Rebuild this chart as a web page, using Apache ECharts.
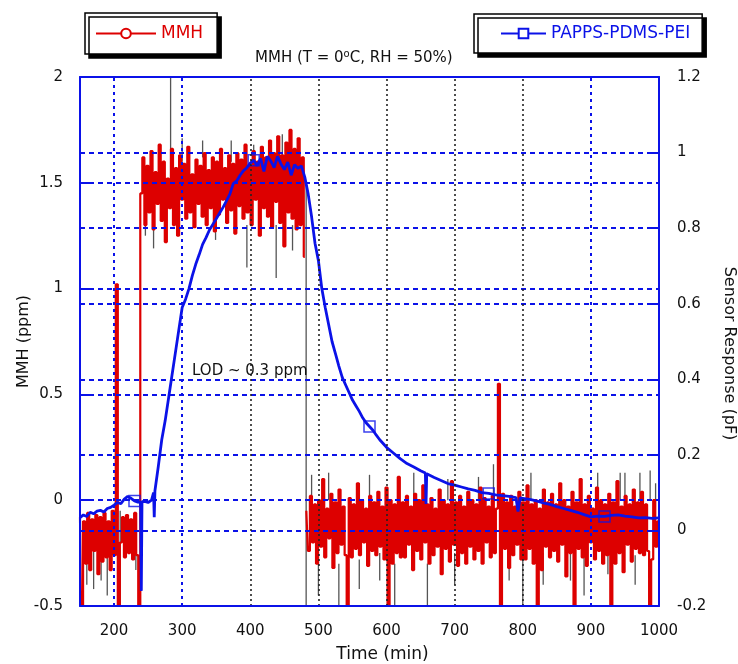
<!DOCTYPE html>
<html>
<head>
<meta charset="utf-8">
<script src="https://cdn.jsdelivr.net/npm/echarts@6/dist/echarts.min.js"></script>
<style>
html, body { margin: 0; padding: 0; background: #ffffff; overflow: hidden; }
#chart { width: 738px; height: 664px; }
</style>
</head>
<body>
<div id="chart"></div>
<script>
// MMH concentration, sampled every 3 min starting at t = 150 min
const mmhStart = 150;
const mmhStep = 3;

// 150-237 min: baseline before exposure
const mmhBaseline = [
  -0.08, -0.5, -0.1, -0.3, -0.06, -0.33, -0.09, -0.24, -0.07, -0.35,
  -0.08, -0.29, -0.06, -0.27, -0.1, -0.33, -0.05, -0.26, 1.02, -0.5,
  -0.2, -0.08, -0.27, -0.07, -0.25, -0.09, -0.28, -0.06, -0.26, -0.5
];

// 240-480 min: MMH exposure
const mmhExposure = [
  1.45, 1.62, 1.3, 1.58, 1.36, 1.65, 1.28, 1.55, 1.4, 1.68, 1.32, 1.6, 1.22, 1.52, 1.38, 1.66, 1.3, 1.57, 1.25, 1.63,
  1.42, 1.59, 1.33, 1.67, 1.36, 1.54, 1.29, 1.61, 1.4, 1.58, 1.34, 1.64, 1.3, 1.56, 1.38, 1.62, 1.27, 1.6, 1.35, 1.66,
  1.42, 1.57, 1.31, 1.63, 1.37, 1.59, 1.26, 1.64, 1.39, 1.61, 1.33, 1.68, 1.36, 1.58, 1.3, 1.65, 1.42, 1.6, 1.25, 1.67,
  1.38, 1.62, 1.34, 1.7, 1.29, 1.64, 1.41, 1.72, 1.31, 1.63, 1.2, 1.69, 1.36, 1.75, 1.33, 1.66, 1.28, 1.71, 1.3, 1.62,
  1.15
];

// 483-999 min: recovery in clean air
const mmhRecovery = [
  -0.05, -0.24, 0.02, -0.2, -0.02, -0.3, 0.0, -0.22, 0.1, -0.27, -0.04, -0.18, 0.03, -0.32, -0.01, -0.25, 0.05, -0.21, -0.03, -0.26,
  -0.5, 0.01, -0.27, -0.02, -0.23, 0.08, -0.26, 0.0, -0.2, -0.04, -0.31, 0.02, -0.24, -0.01, -0.26, 0.04, -0.22, -0.03, -0.28, 0.06,
  -0.5, 0.0, -0.3, -0.02, -0.25, 0.11, -0.27, -0.01, -0.27, 0.02, -0.21, -0.03, -0.33, 0.03, -0.24, 0.0, -0.28, 0.07, -0.2, -0.02,
  -0.3, 0.01, -0.26, -0.04, -0.22, 0.05, -0.35, 0.0, -0.23, -0.02, -0.29, 0.09, -0.21, -0.01, -0.31, 0.02, -0.25, -0.03, -0.3, 0.04,
  -0.22, 0.0, -0.28, -0.02, -0.24, 0.06, -0.3, 0.01, -0.2, -0.03, -0.27, 0.02, -0.25, -0.04, 0.55, -0.5, 0.03, -0.23, -0.01, -0.32,
  0.02, -0.26, -0.03, -0.21, 0.04, -0.28, -0.01, -0.28, 0.07, -0.23, -0.02, -0.3, 0.0, -0.5, -0.04, -0.33, 0.05, -0.22, -0.01, -0.27,
  0.03, -0.24, -0.02, -0.29, 0.08, -0.21, 0.0, -0.36, -0.03, -0.25, 0.04, -0.5, -0.01, -0.23, 0.1, -0.27, -0.02, -0.31, 0.02, -0.2,
  -0.04, -0.28, 0.06, -0.24, 0.0, -0.3, -0.02, -0.26, 0.03, -0.5, -0.01, -0.3, 0.09, -0.25, -0.03, -0.34, 0.02, -0.21, -0.02, -0.29,
  0.05, -0.23, -0.01, -0.25, 0.04, -0.26, -0.02, -0.24, -0.5, -0.28, 0.0, -0.22, -0.1
];

// raw-signal excursions left visible behind the MMH trace (time, low, high)
const rawTime = [160, 170, 181, 190, 209, 232, 246, 258, 283, 300, 330, 349, 372, 395, 405, 438, 447, 462, 482,
  490, 500, 515, 530, 560, 575, 590, 612, 640, 660, 690, 700, 735, 757, 780, 800, 812, 830, 855, 870, 890, 910, 925, 943, 950, 965, 972, 987, 995];
const rawLow = [-0.4, -0.42, -0.38, -0.45, -0.5, -0.33, 1.25, 1.19, 1.4, 1.6, 1.62, 1.23, 1.6, 1.1, 1.58, 1.05, 1.62, 1.18, -0.5,
  0.0, -0.45, 0.0, -0.5, -0.42, 0.0, -0.38, -0.5, 0.0, -0.5, 0.0, -0.4, 0.0, 0.0, -0.38, -0.5, 0.0, -0.4, 0.0, -0.38, -0.45, 0.0, -0.35, 0.0, 0.0, -0.4, 0.0, 0.0, 0.0];
const rawHigh = [-0.1, -0.2, -0.2, -0.25, -0.05, -0.2, 1.4, 1.35, 2.0, 1.71, 1.7, 1.35, 1.7, 1.3, 1.68, 1.3, 1.73, 1.3, 1.5,
  0.12, -0.25, 0.13, -0.3, -0.28, 0.12, -0.25, -0.3, 0.13, -0.3, 0.1, -0.25, 0.11, 0.17, -0.25, -0.28, 0.13, -0.25, 0.08, -0.25, -0.25, 0.13, -0.25, 0.13, 0.13, -0.26, 0.13, 0.14, 0.08];

// PAPPS-PDMS-PEI capacitive response (pF)
const sensorTime = [150, 155, 160, 165, 170, 175, 180, 185, 190, 195, 200, 205, 210, 215, 220, 225, 230, 235, 239, 240,
  241, 245, 250, 255, 258, 259, 260, 265, 270, 275, 280, 285, 290, 295, 300, 305, 310, 315, 320, 325,
  330, 335, 340, 345, 350, 355, 360, 365, 370, 375, 380, 385, 390, 395, 400, 405, 410, 415, 420, 425,
  430, 435, 440, 445, 450, 455, 460, 465, 470, 475, 480, 485, 490, 495, 500, 505, 510, 515, 520, 525,
  530, 535, 540, 545, 550, 555, 560, 565, 570, 575, 580, 585, 590, 595, 600, 610, 620, 630, 640, 650,
  657, 658, 659, 670, 680, 690, 700, 710, 720, 730, 740, 750, 760, 770, 780, 790, 793, 796, 800, 810,
  820, 830, 840, 850, 860, 870, 880, 890, 900, 910, 920, 930, 940, 950, 960, 970, 980, 990, 1000];
const sensorResp = [0.034, 0.041, 0.037, 0.048, 0.044, 0.051, 0.053, 0.049, 0.058, 0.061, 0.067, 0.074, 0.071, 0.083, 0.09, 0.085, 0.078, 0.075, 0.074, -0.16,
  0.076, 0.077, 0.074, 0.08, 0.1, 0.035, 0.105, 0.17, 0.24, 0.29, 0.35, 0.41, 0.47, 0.53, 0.59, 0.612, 0.64, 0.675, 0.705, 0.73,
  0.757, 0.775, 0.795, 0.81, 0.825, 0.84, 0.855, 0.872, 0.89, 0.918, 0.925, 0.94, 0.952, 0.96, 0.972, 0.98, 0.965, 0.985, 0.95, 0.99,
  0.978, 0.96, 0.99, 0.97, 0.955, 0.975, 0.94, 0.968, 0.958, 0.965, 0.935, 0.89, 0.83, 0.76, 0.714, 0.64, 0.59, 0.545, 0.5, 0.468,
  0.435, 0.405, 0.385, 0.365, 0.345, 0.33, 0.315, 0.298, 0.285, 0.275, 0.265, 0.252, 0.24, 0.23, 0.22, 0.205, 0.19, 0.177, 0.168, 0.158,
  0.152, 0.07, 0.15, 0.14, 0.132, 0.124, 0.12, 0.115, 0.11, 0.106, 0.1, 0.098, 0.094, 0.092, 0.09, 0.087, 0.05, 0.086, 0.085, 0.082,
  0.078, 0.073, 0.069, 0.063, 0.058, 0.053, 0.048, 0.042, 0.036, 0.038, 0.037, 0.04, 0.041, 0.038, 0.036, 0.033, 0.034, 0.032, 0.033];

// times at which the sensor curve carries its square symbol
const markerTimes = [230, 405, 575, 750, 920];

// axis ticks and grid
const timeTicks = [200, 300, 400, 500, 600, 700, 800, 900, 1000];
const blueGridTimes = [200, 300, 900];
const blackGridTimes = [400, 500, 600, 700, 800];

const FONT = 'DejaVu Sans';
const BLUE = '#0b12e8';
const RED = '#dd0000';

// the trace is broken where the gas line was switched off (end of exposure)
const toPoints = (values, first) => values.map((v, i) => [mmhStart + (first + i) * mmhStep, v]);
const nBase = mmhBaseline.length;
const nExpo = mmhExposure.length;
const mmhData = toPoints(mmhBaseline, 0)
  .concat(toPoints(mmhExposure, nBase))
  .concat([[mmhStart + (nBase + nExpo - 0.5) * mmhStep, '-']])
  .concat(toPoints(mmhRecovery, nBase + nExpo));

const rawData = rawTime.map((t, i) => [t, rawLow[i], rawHigh[i]]);
const sensorData = sensorTime.map((t, i) => [t, sensorResp[i]]);
const markerData = markerTimes.map(t => [t, sensorResp[sensorTime.indexOf(t)]]);

const vGrid = blueGridTimes.map(t => ({ xAxis: t, lineStyle: { color: BLUE, width: 2, type: [3, 4] } }))
  .concat(blackGridTimes.map(t => ({ xAxis: t, lineStyle: { color: '#222', width: 1.6, type: [2, 3] } })));

const chart = echarts.init(document.getElementById('chart'), null, { renderer: 'canvas', width: 738, height: 664 });

chart.setOption({
  animation: false,
  backgroundColor: '#ffffff',
  title: {
    text: 'MMH (T = 0{s|o}C, RH = 50%)',
    left: 250,
    top: 44,
    textStyle: {
      fontFamily: FONT, fontSize: 15, fontWeight: 'normal', color: '#111',
      rich: { s: { fontFamily: FONT, fontSize: 10, color: '#111', padding: [0, 0, 9, 0] } }
    }
  },
  legend: [
    {
      data: ['MMH'],
      left: 85, top: 13,
      itemWidth: 60, itemHeight: 12, itemGap: 5,
      padding: [12, 14, 12, 10],
      backgroundColor: '#ffffff',
      borderColor: '#000', borderWidth: 1.5,
      shadowColor: '#000', shadowBlur: 0, shadowOffsetX: 4, shadowOffsetY: 4,
      textStyle: { fontFamily: FONT, fontSize: 17, color: RED }
    },
    {
      data: ['PAPPS-PDMS-PEI'],
      left: 474, top: 14,
      itemWidth: 45, itemHeight: 12, itemGap: 6,
      padding: [11, 12, 11, 26],
      backgroundColor: '#ffffff',
      borderColor: '#000', borderWidth: 1.5,
      shadowColor: '#000', shadowBlur: 0, shadowOffsetX: 4, shadowOffsetY: 4,
      textStyle: { fontFamily: FONT, fontSize: 17, color: BLUE }
    }
  ],
  grid: { left: 80, top: 77, width: 579, height: 529, containLabel: false, outerBoundsMode: 'none' },
  xAxis: [
    {
      type: 'value', position: 'bottom', min: 150, max: 1000, z: 6,
      name: 'Time (min)', nameLocation: 'middle', nameGap: 40, nameMoveOverlap: false,
      nameTextStyle: { fontFamily: FONT, fontSize: 17, color: '#111', padding: [0, 0, 0, 26] },
      axisLine: { show: true, onZero: false, lineStyle: { color: BLUE, width: 2 } },
      axisTick: { show: false },
      axisLabel: { customValues: timeTicks, margin: 18, fontFamily: FONT, fontSize: 15, color: '#111',
        formatter: v => String(v) },
      splitLine: { show: false }
    },
    {
      type: 'value', position: 'top', min: 150, max: 1000, z: 6,
      axisLine: { show: true, onZero: false, lineStyle: { color: BLUE, width: 2 } },
      axisTick: { show: false }, axisLabel: { show: false }, splitLine: { show: false }
    }
  ],
  yAxis: [
    {
      type: 'value', position: 'left', min: -0.5, max: 2, interval: 0.5, z: 6,
      name: 'MMH (ppm)', nameLocation: 'middle', nameGap: 48, nameMoveOverlap: false,
      nameTextStyle: { fontFamily: FONT, fontSize: 16, color: '#111' },
      axisLine: { show: true, onZero: false, lineStyle: { color: BLUE, width: 2 } },
      axisTick: { show: true, inside: true, length: 12, lineStyle: { color: BLUE, width: 2 } },
      axisLabel: { margin: 17, fontFamily: FONT, fontSize: 15, color: '#111' },
      splitLine: { show: true, lineStyle: { color: BLUE, width: 2, type: [5, 4] } }
    },
    {
      type: 'value', position: 'right', min: -0.2, max: 1.2, interval: 0.2, z: 6,
      name: 'Sensor Response (pF)', nameLocation: 'middle', nameGap: 62, nameRotate: -90, nameMoveOverlap: false,
      nameTextStyle: { fontFamily: FONT, fontSize: 16, color: '#111', padding: [0, 0, 0, 24] },
      axisLine: { show: true, onZero: false, lineStyle: { color: BLUE, width: 2 } },
      axisTick: { show: true, inside: true, length: 11, lineStyle: { color: BLUE, width: 2 } },
      axisLabel: { margin: 18, fontFamily: FONT, fontSize: 15, color: '#111' },
      splitLine: { show: true, lineStyle: { color: BLUE, width: 2, type: [5, 4] } }
    }
  ],
  graphic: [
    {
      type: 'text', left: 192, top: 364, z: 10,
      style: { text: 'LOD ~ 0.3 ppm', fontFamily: FONT, fontSize: 15, fill: '#111' }
    }
  ],
  series: [
    {
      name: 'raw',
      type: 'custom',
      xAxisIndex: 0, yAxisIndex: 0,
      z: 1,
      data: rawData,
      encode: { x: 0, y: [1, 2] },
      renderItem: function (params, api) {
        const a = api.coord([api.value(0), api.value(1)]);
        const b = api.coord([api.value(0), api.value(2)]);
        return {
          type: 'line',
          shape: { x1: a[0], y1: a[1], x2: b[0], y2: b[1] },
          style: { stroke: '#555', lineWidth: 1.3 }
        };
      }
    },
    {
      name: 'MMH',
      type: 'line',
      xAxisIndex: 0, yAxisIndex: 0,
      z: 2,
      data: mmhData,
      step: 'middle',
      connectNulls: false,
      symbol: 'emptyCircle', symbolSize: 9, showSymbol: false,
      itemStyle: { color: RED, borderColor: RED, borderWidth: 1.5 },
      lineStyle: { color: RED, width: 2.2 },
      sampling: false,
      markLine: {
        silent: true, symbol: 'none', z: 6,
        label: { show: false },
        data: vGrid
      }
    },
    {
      name: 'PAPPS-PDMS-PEI',
      type: 'line',
      xAxisIndex: 0, yAxisIndex: 1,
      z: 3,
      data: sensorData,
      symbol: 'emptyRect', symbolSize: 9, showSymbol: false,
      itemStyle: { color: BLUE, borderColor: BLUE, borderWidth: 1.5 },
      lineStyle: { color: BLUE, width: 2.8 }
    },
    {
      name: 'sensorMarks',
      type: 'scatter',
      xAxisIndex: 0, yAxisIndex: 1,
      z: 4,
      data: markerData,
      symbol: 'rect', symbolSize: 11,
      itemStyle: { color: 'rgba(0,0,0,0)', borderColor: BLUE, borderWidth: 1.5 }
    }
  ]
});
</script>
</body>
</html>
